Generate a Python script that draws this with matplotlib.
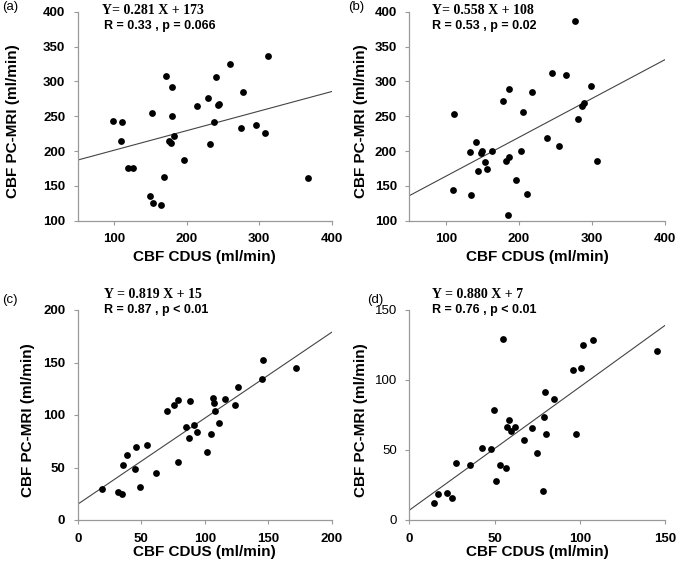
import matplotlib
matplotlib.use('Agg')
import matplotlib.pyplot as plt
import numpy as np

# panel (a)
a_x = [98.6, 111, 110, 119, 126.6, 150, 153.6, 165, 153, 169.6, 172, 180, 180.6, 176, 178.8,
       183, 196, 214.5, 229, 241, 243, 244.7, 237.4, 232, 260, 278, 275, 295, 307.5, 312, 368]
a_y = [243, 241, 215, 175, 175, 136, 125, 122, 254, 163, 307, 292, 251, 214, 211,
       221.5, 187.6, 264.6, 276.6, 306, 265.5, 267.5, 241, 210.5, 325, 284.7, 233.5, 237, 226, 337, 162]

# panel (b)
b_x = [276.7, 111.4, 110, 134.7, 133.3, 141, 148, 150, 163, 154, 144.7, 157, 177.6, 186.8, 182,
       185.8, 196, 185.4, 202.7, 206, 210.5, 218, 238.8, 245.7, 255, 264, 281, 285.8, 289, 298.6, 307]
b_y = [387, 252.6, 143.5, 136.8, 198, 212.4, 196.7, 200, 200.5, 183.7, 172, 173.7, 272, 288.5, 185,
       191.4, 159, 108, 199.5, 256.5, 137.8, 285, 218, 312, 207, 309, 246, 264.6, 268.4, 294, 186]

# panel (c)
c_x = [19.2, 31.5, 35.2, 35.7, 38.6, 44.9, 45.9, 49.3, 54.6, 61.9, 70.6, 75.9, 78.7, 78.7, 88.2, 85,
       87.9, 91.9, 94.2, 101.6, 105, 106.8, 107.6, 108.4, 111, 115.7, 123.9, 126, 145.4, 146, 172]
c_y = [29.8, 27, 25, 52.4, 61.6, 48.3, 69.8, 31.4, 71.1, 44.4, 104.1, 109.2, 114.3, 55.6, 113, 88.3,
       77.8, 90.5, 83.8, 64.4, 81.6, 115.9, 111.1, 103.8, 92.7, 115, 109.8, 126.7, 134, 152.7, 144.4]

# panel (d)
d_x = [14.3, 16.6, 22.1, 24.8, 27.4, 35.6, 42.6, 47.7, 49.5, 50.7, 53.4, 55, 56.5, 57.1, 58.5, 59.5,
       62.2, 67.1, 71.8, 74.9, 78.2, 79, 79.4, 80.4, 85.1, 96, 97.6, 100.7, 101.9, 108, 145.1]
d_y = [12.1, 18.3, 19, 15.5, 41, 39.5, 51.4, 51, 78.3, 28.1, 39.5, 129.3, 36.9, 66.4, 71.7, 63.8,
       66.4, 56.9, 65.5, 47.6, 21, 73.3, 91.4, 61.7, 86.2, 107.4, 61.7, 108.8, 124.8, 128.6, 120.7]

slopes = [0.281, 0.558, 0.819, 0.880]
intercepts = [173, 108, 15, 7]
eq_text = ['Y= 0.281 X + 173', 'Y= 0.558 X + 108', 'Y = 0.819 X + 15', 'Y = 0.880 X + 7']
r_text = ['R = 0.33 , p = 0.066', 'R = 0.53 , p = 0.02', 'R = 0.87 , p < 0.01', 'R = 0.76 , p < 0.01']
letters = ['(a)', '(b)', '(c)', '(d)']
xlims = [(50, 400), (50, 400), (0, 200), (0, 150)]
ylims = [(100, 400), (100, 400), (0, 200), (0, 150)]
xticks = [[100, 200, 300, 400], [100, 200, 300, 400], [0, 50, 100, 150, 200], [0, 50, 100, 150]]
yticks = [[100, 150, 200, 250, 300, 350, 400], [100, 150, 200, 250, 300, 350, 400],
          [0, 50, 100, 150, 200], [0, 50, 100, 150]]

W, H = 680, 571
sans = 'Liberation Sans'
serif = 'Liberation Serif'

# axes boxes in pixels: left, top, right, bottom
boxes = [(77.7, 11.7, 331.7, 220.7), (409.3, 11.7, 665, 220.7),
         (77.7, 310, 331.7, 520), (409.3, 310, 665, 520)]
# text positions in pixels
eq_pos = [(101.7, 10), (432, 10), (104, 295), (432, 295)]
r_pos = [(104, 25.5), (432, 25.5), (104, 310), (432, 310)]
letter_pos = [(2, 7), (348, 7), (2, 300), (367, 300)]
ylab_x = [13.5, 361, 28, 361]
xlab_y = [257, 257, 552, 552]

fig = plt.figure(figsize=(6.8, 5.71), dpi=100)
data = [(a_x, a_y), (b_x, b_y), (c_x, c_y), (d_x, d_y)]

for i in range(4):
    l, t, r, b = boxes[i]
    ax = fig.add_axes([l / W, 1 - b / H, (r - l) / W, (b - t) / H])
    xs, ys = data[i]
    ax.scatter(xs, ys, s=24, color='black', zorder=3, linewidths=0)
    lx = np.array(xlims[i])
    ax.plot(lx, slopes[i] * lx + intercepts[i], color='#444444', lw=0.8)
    ax.set_xlim(*xlims[i])
    ax.set_ylim(*ylims[i])
    ax.set_xticks(xticks[i])
    ax.set_yticks(yticks[i])
    for s in ['top', 'right']:
        ax.spines[s].set_visible(False)
    for s in ['left', 'bottom']:
        ax.spines[s].set_color('#999999')
        ax.spines[s].set_linewidth(0.9)
    ax.tick_params(direction='out', length=3, width=0.8, color='#999999', pad=6)
    for lab in ax.get_xticklabels():
        lab.set_fontfamily(sans)
        lab.set_fontweight('bold')
        lab.set_fontsize(9.5)
    for lab in ax.get_yticklabels():
        lab.set_fontfamily(sans)
        lab.set_fontweight('normal' if i == 3 else 'bold')
        lab.set_fontsize(9.5)
    ax.patch.set_alpha(0)

    cx = (l + r) / 2
    cy = (t + b) / 2
    fig.text(cx / W, 1 - xlab_y[i] / H, 'CBF CDUS (ml/min)', ha='center', va='center',
             fontsize=11, fontweight='bold', family=sans)
    fig.text(ylab_x[i] / W, 1 - (cy + 5) / H, 'CBF PC-MRI (ml/min)', ha='center', va='center',
             rotation=90, fontsize=11, fontweight='bold', family=sans)
    fig.text(eq_pos[i][0] / W, 1 - eq_pos[i][1] / H, eq_text[i], ha='left', va='center',
             fontsize=10, fontweight='bold', family=serif)
    fig.text(r_pos[i][0] / W, 1 - r_pos[i][1] / H, r_text[i], ha='left', va='center',
             fontsize=9, fontweight='bold', family=sans)
    fig.text(letter_pos[i][0] / W, 1 - letter_pos[i][1] / H, letters[i], ha='left', va='center',
             fontsize=9.5, family=sans)

fig.savefig('out.png', dpi=100)
